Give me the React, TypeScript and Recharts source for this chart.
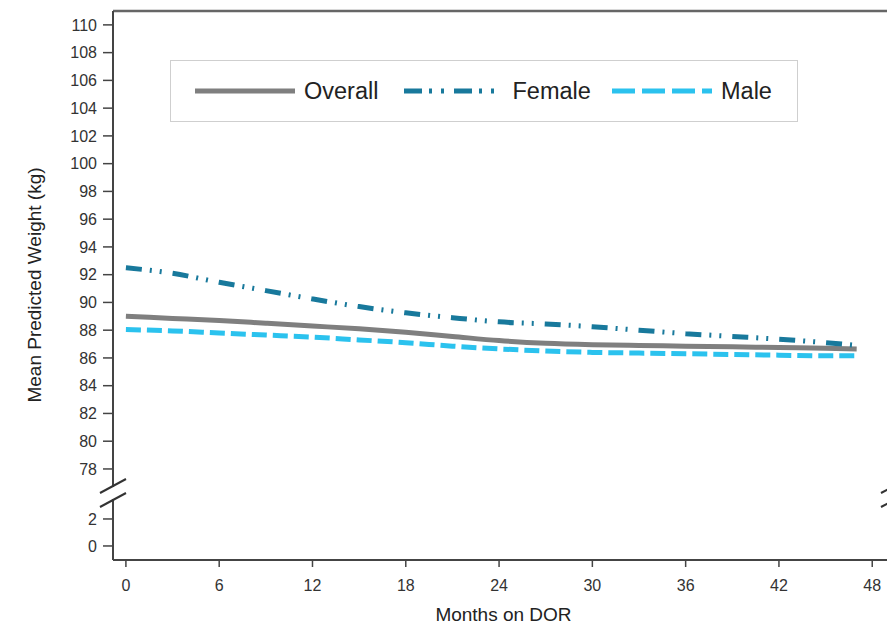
import { LineChart, Line, XAxis, YAxis, ReferenceLine, Label } from 'recharts';

// months on DOR and predicted mean weight (kg)
const months = [0, 3, 6, 9, 12, 15, 18, 21, 24, 27, 30, 33, 36, 39, 42, 45, 47];
const overall = [89.0, 88.85, 88.7, 88.5, 88.3, 88.1, 87.85, 87.55, 87.25, 87.05, 86.95, 86.9, 86.85, 86.8, 86.75, 86.7, 86.65];
const female = [92.5, 92.1, 91.45, 90.85, 90.25, 89.7, 89.25, 88.9, 88.6, 88.45, 88.25, 88.0, 87.75, 87.55, 87.35, 87.1, 86.9];
const male = [88.05, 87.95, 87.8, 87.65, 87.5, 87.3, 87.1, 86.85, 86.65, 86.5, 86.4, 86.35, 86.3, 86.25, 86.2, 86.15, 86.15];

const xTicks = [0, 6, 12, 18, 24, 30, 36, 42, 48];
const upperTicks = [78, 80, 82, 84, 86, 88, 90, 92, 94, 96, 98, 100, 102, 104, 106, 108, 110];
const lowerTicks = [0, 2];

const data = months.map((m, i) => ({
  month: m,
  overall: overall[i],
  female: female[i],
  male: male[i],
}));

const SERIES = [
  { key: 'overall', name: 'Overall', color: '#7f7f7f', dash: undefined, legendDash: undefined },
  { key: 'female', name: 'Female', color: '#18799c', dash: '16 8 2 8 2 11', legendDash: '18 7 3 9 3 10' },
  { key: 'male', name: 'Male', color: '#2bc2ee', dash: '15 6', legendDash: '23 7' },
];

const FONT = '"Liberation Sans", Arial, Helvetica, sans-serif';
const AXIS = '#444';
const X_DOMAIN: [number, number] = [-0.83, 49.4];
const tick = { fontSize: 16, fill: '#333', fontFamily: FONT };

function ChartLegend() {
  return (
    <div
      style={{
        position: 'absolute',
        left: 170,
        top: 60,
        width: 628,
        height: 62,
        boxSizing: 'border-box',
        border: '1.5px solid #cfcfcf',
        background: '#fff',
        display: 'flex',
        alignItems: 'center',
        paddingLeft: 24,
        fontFamily: FONT,
        fontSize: 23.5,
        color: '#222',
      }}
    >
      {SERIES.map((s) => (
        <div key={s.key} style={{ display: 'flex', alignItems: 'center', width: 208.5, flexShrink: 0 }}>
          <svg width={100} height={10}>
            <line x1={0} y1={5} x2={100} y2={5} stroke={s.color} strokeWidth={5} strokeDasharray={s.legendDash} />
          </svg>
          <span style={{ marginLeft: 9, whiteSpace: 'nowrap' }}>{s.name}</span>
        </div>
      ))}
    </div>
  );
}

export default function App() {
  return (
    <div
      style={{
        position: 'fixed',
        left: 0,
        top: 0,
        width: 887,
        height: 626,
        overflow: 'hidden',
        background: '#fff',
        fontFamily: FONT,
      }}
    >
      {/* upper segment of the broken axis */}
      <div style={{ position: 'absolute', left: 0, top: 0 }}>
        <LineChart width={894} height={487} data={data} margin={{ top: 11, right: 0, bottom: 0, left: 0 }}>
          <XAxis dataKey="month" type="number" domain={X_DOMAIN} allowDataOverflow hide height={0} />
          <YAxis
            type="number"
            domain={[76.7, 111]}
            allowDataOverflow
            ticks={upperTicks}
            interval={0}
            width={113}
            tick={tick}
            tickSize={10}
            tickMargin={6}
            axisLine={{ stroke: AXIS, strokeWidth: 2 }}
            tickLine={{ stroke: AXIS, strokeWidth: 1.5 }}
          />
          <ReferenceLine y={111} stroke="#666" strokeWidth={2.5} />
          {SERIES.map((s) => (
            <Line
              key={s.key}
              type="monotone"
              dataKey={s.key}
              name={s.name}
              stroke={s.color}
              strokeWidth={5}
              strokeDasharray={s.dash}
              dot={false}
              isAnimationActive={false}
            />
          ))}
        </LineChart>
      </div>

      {/* lower segment with the x axis */}
      <div style={{ position: 'absolute', left: 0, top: 0 }}>
        <LineChart width={894} height={626} data={data} margin={{ top: 499, right: 0, bottom: 0, left: 0 }}>
          <XAxis
            dataKey="month"
            type="number"
            domain={X_DOMAIN}
            allowDataOverflow
            ticks={xTicks}
            interval={0}
            height={66}
            tick={tick}
            tickSize={7}
            tickMargin={13}
            axisLine={{ stroke: AXIS, strokeWidth: 2 }}
            tickLine={{ stroke: AXIS, strokeWidth: 1.5 }}
          >
            <Label value="Months on DOR" position="insideBottom" offset={5} style={{ fontSize: 19, fill: '#222', fontFamily: FONT }} />
          </XAxis>
          <YAxis
            type="number"
            domain={[-1.04, 3.48]}
            allowDataOverflow
            ticks={lowerTicks}
            interval={0}
            width={113}
            tick={tick}
            tickSize={10}
            tickMargin={6}
            axisLine={{ stroke: AXIS, strokeWidth: 2 }}
            tickLine={{ stroke: AXIS, strokeWidth: 1.5 }}
          />
        </LineChart>
      </div>

      {/* axis break marks */}
      <svg style={{ position: 'absolute', left: 0, top: 0 }} width={887} height={626}>
        <line x1={100} y1={493} x2={126} y2={479} stroke="#333" strokeWidth={2} />
        <line x1={100} y1={507} x2={126} y2={493} stroke="#333" strokeWidth={2} />
        <line x1={881} y1={493} x2={907} y2={479} stroke="#333" strokeWidth={2} />
        <line x1={881} y1={507} x2={907} y2={493} stroke="#333" strokeWidth={2} />
      </svg>

      <div
        style={{
          position: 'absolute',
          left: 35,
          top: 285,
          transform: 'translate(-50%, -50%) rotate(-90deg)',
          whiteSpace: 'nowrap',
          fontSize: 19,
          color: '#222',
        }}
      >
        Mean Predicted Weight (kg)
      </div>

      <ChartLegend />
    </div>
  );
}
